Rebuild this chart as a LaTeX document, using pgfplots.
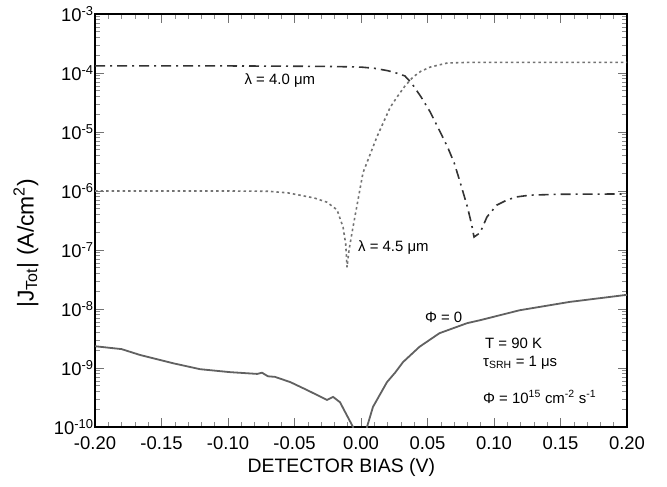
\documentclass[border=0pt]{standalone}
\usepackage{fontspec}
\setmainfont{Liberation Sans}
\usepackage{pgfplots}
\pgfplotsset{compat=1.18}
\begin{document}
\begin{tikzpicture}
\useasboundingbox (0,0) rectangle (667bp,487bp);
\begin{axis}[
  at={(95bp,60bp)}, anchor=south west,
  width=532bp, height=413bp, scale only axis,
  xmin=-0.2, xmax=0.2,
  ymode=log, ymin=1e-10, ymax=1e-3,
  xtick={-0.2,-0.15,-0.1,-0.05,0,0.05,0.1,0.15,0.2},
  xticklabels={-0.20,-0.15,-0.10,-0.05,0.00,0.05,0.10,0.15,0.20},
  minor x tick num=4,
  ytick={1e-10,1e-9,1e-8,1e-7,1e-6,1e-5,1e-4,1e-3},
  yticklabels={10\textsuperscript{-10},10\textsuperscript{-9},10\textsuperscript{-8},10\textsuperscript{-7},10\textsuperscript{-6},10\textsuperscript{-5},10\textsuperscript{-4},10\textsuperscript{-3}},
  minor ytick={2e-10,3e-10,4e-10,5e-10,6e-10,7e-10,8e-10,9e-10,
    2e-9,3e-9,4e-9,5e-9,6e-9,7e-9,8e-9,9e-9,
    2e-8,3e-8,4e-8,5e-8,6e-8,7e-8,8e-8,9e-8,
    2e-7,3e-7,4e-7,5e-7,6e-7,7e-7,8e-7,9e-7,
    2e-6,3e-6,4e-6,5e-6,6e-6,7e-6,8e-6,9e-6,
    2e-5,3e-5,4e-5,5e-5,6e-5,7e-5,8e-5,9e-5,
    2e-4,3e-4,4e-4,5e-4,6e-4,7e-4,8e-4,9e-4},
  tick align=inside,
  major tick length=9bp, minor tick length=5bp,
  axis line style={line width=2bp},
  tick style={line width=0.8bp, black!55},
  every minor tick/.style={line width=0.6bp, black!45},
  tick label style={font=\fontsize{18.5}{18.5}\selectfont},
  xticklabel style={yshift=-6.5bp},
  yticklabel style={xshift=2bp},
  xlabel={DETECTOR BIAS (V)},
  xlabel style={font=\fontsize{19.5}{20}\selectfont, at={(axis description cs:0.463,-0.099)}, anchor=center},
  ylabel={|J\textsubscript{Tot}| (A/cm\textsuperscript{2})},
  ylabel style={font=\fontsize{23}{23}\selectfont, at={(axis description cs:-0.13,0.445)}, anchor=center, rotate=0},
]
% lambda = 4.0 um (dash-dot)
\addplot[black!80, line width=1.6bp, dash pattern=on 10bp off 5bp on 2bp off 5bp] coordinates {
(-0.200,1.318e-4) (-0.100,1.318e-4) (-0.050,1.303e-4) (-0.020,1.288e-4) (0.000,1.259e-4)
(0.010,1.202e-4) (0.020,1.096e-4) (0.028,9.77e-5) (0.033,8.91e-5) (0.038,6.76e-5)
(0.045,3.98e-5) (0.052,2.19e-5) (0.058,1.175e-5) (0.065,5.62e-6) (0.070,3.02e-6)
(0.074,1.55e-6) (0.080,5.37e-7) (0.083,2.82e-7) (0.085,1.66e-7) (0.0875,1.82e-7)
(0.0895,1.95e-7) (0.0947,3.63e-7) (0.102,5.75e-7) (0.110,7.08e-7) (0.117,7.94e-7)
(0.127,8.51e-7) (0.150,8.81e-7) (0.200,8.91e-7)
};
% lambda = 4.5 um (dotted)
\addplot[black!55, line width=1.6bp, dash pattern=on 2.5bp off 3bp] coordinates {
(-0.200,1.0e-6) (-0.100,1.0e-6) (-0.070,9.9e-7) (-0.055,9.3e-7) (-0.046,8.5e-7)
(-0.035,7.6e-7) (-0.0256,6.46e-7) (-0.018,4.79e-7) (-0.0135,2.45e-7) (-0.0115,1.26e-7)
(-0.0105,5.1e-8) (-0.009,1.0e-7) (-0.006,2.45e-7) (0.0015,2.04e-6) (0.012,8.3e-6)
(0.022,2.63e-5) (0.027,3.89e-5) (0.033,6.0e-5) (0.039,8.5e-5) (0.045,1.07e-4)
(0.052,1.26e-4) (0.065,1.48e-4) (0.080,1.51e-4) (0.200,1.51e-4)
};
% Phi = 0 (solid)
\addplot[black!62, line width=1.8bp] coordinates {
(-0.200,2.34e-9) (-0.180,2.09e-9) (-0.166,1.66e-9) (-0.141,1.20e-9) (-0.121,9.55e-10)
(-0.0985,8.51e-10) (-0.078,7.94e-10) (-0.0744,8.32e-10) (-0.070,7.24e-10) (-0.0647,7.08e-10)
(-0.053,5.75e-10) (-0.040,4.17e-10) (-0.0256,2.88e-10) (-0.021,3.24e-10) (-0.0158,2.63e-10)
(-0.006,1.0e-10) (-0.001,3e-11) (0.001,3e-11) (0.0045,1.0e-10) (0.009,2.19e-10)
(0.0195,5.75e-10) (0.0256,8.32e-10) (0.0316,1.26e-9) (0.044,2.29e-9) (0.059,3.89e-9)
(0.0797,5.75e-9) (0.0895,6.46e-9) (0.1195,9.55e-9) (0.157,1.32e-8) (0.200,1.74e-8)
};
\node[font=\fontsize{15}{15}\selectfont, anchor=center] at (axis cs:-0.061,7.6e-5) {λ = 4.0 μm};
\node[font=\fontsize{15}{15}\selectfont, anchor=west, inner sep=0pt] at (axis cs:-0.0023,1.12e-7) {λ = 4.5 μm};
\node[font=\fontsize{15}{15}\selectfont, anchor=west, inner sep=0pt] at (axis cs:0.048,7.2e-9) {Φ = 0};
\node[font=\fontsize{15}{15}\selectfont, anchor=west, inner sep=0pt] at (axis cs:0.0932,2.65e-9) {T = 90 K};
\node[font=\fontsize{15}{15}\selectfont, anchor=west, inner sep=0pt] at (axis cs:0.0917,1.22e-9) {τ\textsubscript{SRH} = 1 μs};
\node[font=\fontsize{15}{15}\selectfont, anchor=west, inner sep=0pt] at (axis cs:0.0917,3.24e-10) {Φ = 10\textsuperscript{15} cm\textsuperscript{-2} s\textsuperscript{-1}};
\end{axis}
\end{tikzpicture}
\end{document}
